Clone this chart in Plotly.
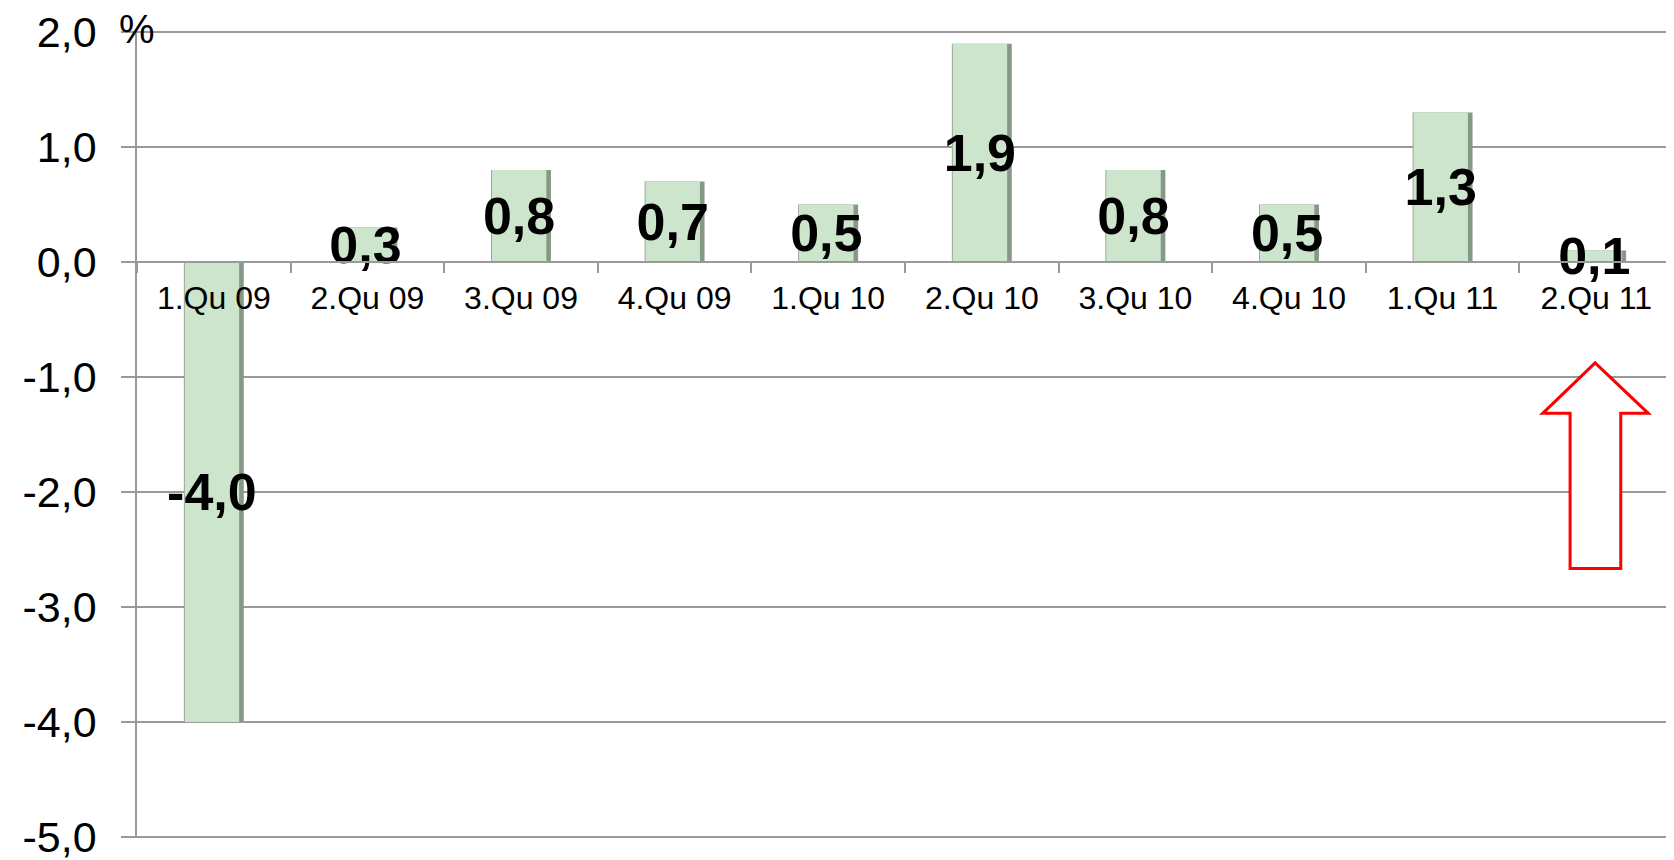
import plotly.graph_objects as go

categories = ["1.Qu 09", "2.Qu 09", "3.Qu 09", "4.Qu 09", "1.Qu 10",
              "2.Qu 10", "3.Qu 10", "4.Qu 10", "1.Qu 11", "2.Qu 11"]
values = [-4.0, 0.3, 0.8, 0.7, 0.5, 1.9, 0.8, 0.5, 1.3, 0.1]
y_tickvals = [2, 1, 0, -1, -2, -3, -4, -5]
y_ticktext = ["2,0", "1,0", "0,0", "-1,0", "-2,0", "-3,0", "-4,0", "-5,0"]

labels = [f"{v:.1f}".replace(".", ",") for v in values]

FONT = "Arial, Liberation Sans, sans-serif"
GRID = "#9a9a9a"

fig = go.Figure()
# darker edge (bevel shadow)
fig.add_trace(go.Bar(
    x=categories, y=values, width=0.39, offset=-0.195,
    marker=dict(color="#869886", line=dict(width=0)),
    hoverinfo="skip", showlegend=False,
))
# main face
fig.add_trace(go.Bar(
    x=categories, y=values, width=0.355, offset=-0.19,
    marker=dict(color="#CCE5CC", line=dict(width=0)),
    text=labels, textposition="inside", insidetextanchor="middle",
    textangle=0, constraintext="none", cliponaxis=False,
    textfont=dict(family=FONT, size=52, color="black", weight="bold"),
    showlegend=False,
))

fig.update_layout(
    template="none",
    width=1674, height=860,
    margin=dict(l=129, r=9, t=23, b=30),
    paper_bgcolor="white", plot_bgcolor="white",
    barmode="overlay",
    font=dict(family=FONT, color="black"),
    xaxis=dict(
        type="category", anchor="free", position=5.01/7.02,
        automargin=False,
        showline=True, linecolor=GRID, linewidth=1.5,
        ticks="outside", tickson="boundaries", ticklen=10,
        tickcolor=GRID, tickwidth=1.5,
        tickfont=dict(family=FONT, size=32, color="black"),
        showgrid=False, zeroline=False, ticklabelstandoff=8,
    ),
    yaxis=dict(
        range=[-5.01, 2.01], tickvals=y_tickvals, ticktext=y_ticktext,
        automargin=False,
        showline=True, linecolor=GRID, linewidth=1.5,
        ticks="outside", ticklen=14, tickcolor=GRID, tickwidth=1.5,
        showgrid=True, gridcolor=GRID, gridwidth=1.5, zeroline=False,
        tickfont=dict(family=FONT, size=43, color="black"),
        ticklabelstandoff=16, ticklabeloverflow="allow",
    ),
    annotations=[dict(
        text="%", xref="paper", yref="paper", x=0.0, y=1.0,
        xanchor="center", yanchor="middle", showarrow=False,
        font=dict(family=FONT, size=40, color="black"), yshift=2,
    )],
    shapes=[dict(
        type="path", xref="paper", yref="paper",
        path="M 0.9493 0.5887 L 0.9839 0.5262 L 0.9660 0.5262 L 0.9660 0.3340 "
             "L 0.9330 0.3340 L 0.9330 0.5262 L 0.9152 0.5262 Z",
        line=dict(color="#FF0000", width=3), fillcolor="white", layer="above",
    )],
)

fig.write_html("out.html")
